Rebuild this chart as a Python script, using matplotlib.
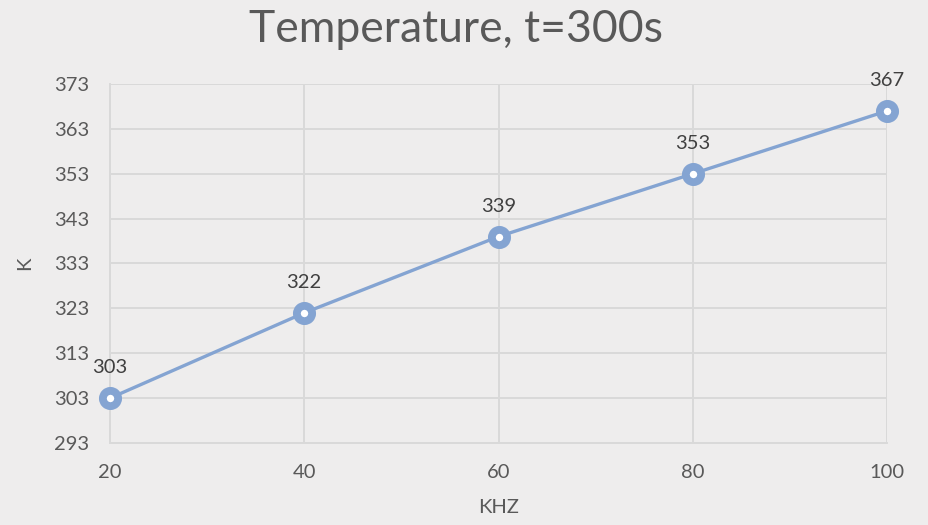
import matplotlib.pyplot as plt

freq_khz = [20, 40, 60, 80, 100]
temp_k = [303, 322, 339, 353, 367]
y_ticks = [293, 303, 313, 323, 333, 343, 353, 363, 373]
x_ticks = [20, 40, 60, 80, 100]

plt.rcParams["font.family"] = ["Lato", "DejaVu Sans"]

bg = "#EEEDED"
grid = "#D9D9D9"
blue = "#84A4D2"

fig = plt.figure(figsize=(9.29, 5.25), dpi=100, facecolor=bg)
ax = fig.add_axes([0.1184, 0.1562, 0.8364, 0.6838], facecolor=bg)

ax.plot(freq_khz, temp_k, color=blue, lw=2.4, marker="o", ms=11,
        mfc="white", mec=blue, mew=5.6, zorder=3, clip_on=False)
for x, y in zip(freq_khz, temp_k):
    ax.annotate(str(y), (x, y), xytext=(0, 22), textcoords="offset points",
                ha="center", va="center", fontsize=14.5, color="#404040")

ax.set_xlim(20, 100)
ax.set_ylim(293, 373)
ax.set_xticks(x_ticks)
ax.set_yticks(y_ticks)
ax.grid(True, color=grid, lw=1.4)
ax.set_axisbelow(True)
for s in ["top", "right"]:
    ax.spines[s].set_visible(False)
for s in ["left", "bottom"]:
    ax.spines[s].set_color(grid)
    ax.spines[s].set_linewidth(1.4)
ax.tick_params(length=0, labelsize=14.5, labelcolor="#595959", pad=15)

ax.set_xlabel("KHZ", fontsize=14.5, color="#595959", labelpad=13)
ax.set_ylabel("K", fontsize=14.5, color="#595959", labelpad=15)
fig.suptitle("Temperature, t=300s", x=0.491, y=0.982, va="top",
             fontsize=32, color="#595959")

fig.savefig("out.png", dpi=100, facecolor=bg)
